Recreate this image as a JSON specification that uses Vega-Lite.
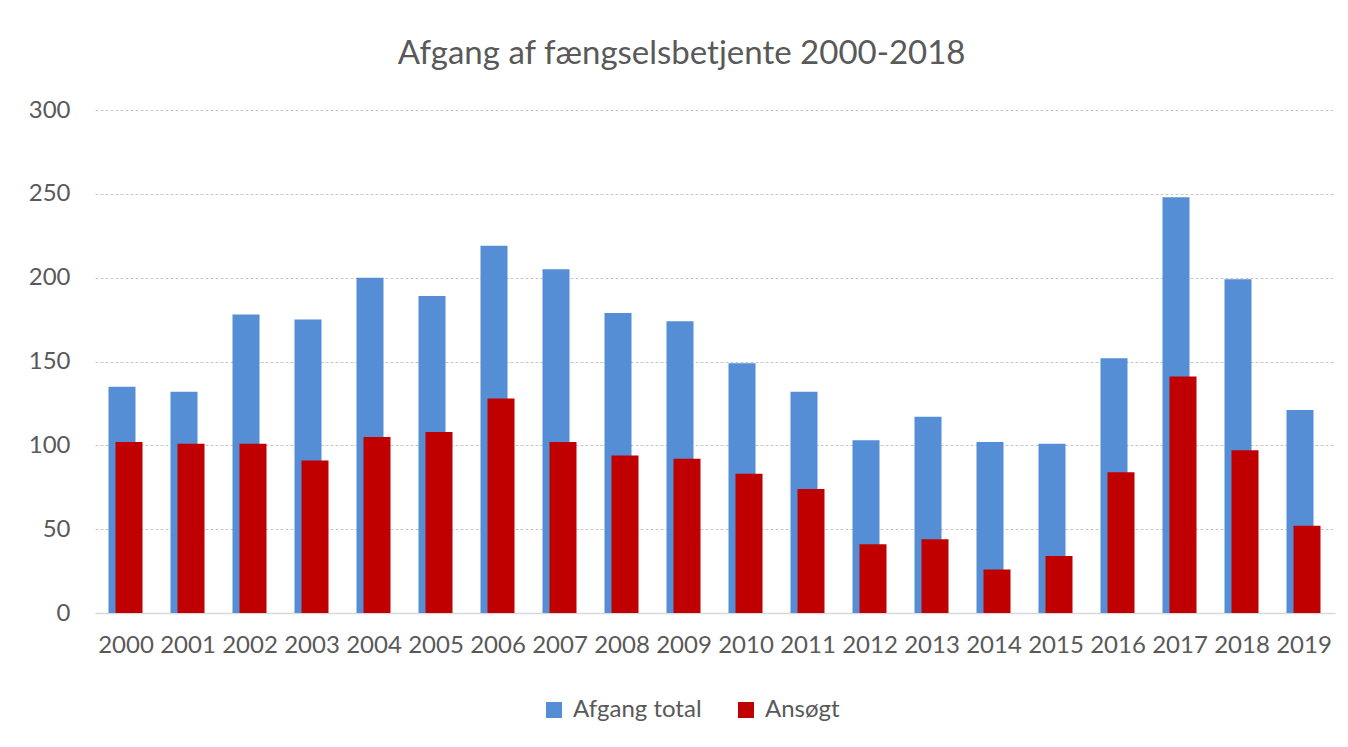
{
  "$schema": "https://vega.github.io/schema/vega-lite/v6.json",
  "width": 1240,
  "height": 503,
  "autosize": {"type": "none"},
  "padding": {"left": 95, "top": 110, "right": 13, "bottom": 134},
  "background": "white",
  "config": {"view": {"stroke": null}},
  "title": {
    "text": "Afgang af fængselsbetjente 2000-2018",
    "font": "Lato",
    "fontSize": 33,
    "fontWeight": "normal",
    "color": "#595959",
    "frame": "bounds",
    "anchor": "middle",
    "offset": 27
  },
  "data": {
    "values": [
      {"year": "2000", "series": "Afgang total", "value": 135},
      {"year": "2001", "series": "Afgang total", "value": 132},
      {"year": "2002", "series": "Afgang total", "value": 178},
      {"year": "2003", "series": "Afgang total", "value": 175},
      {"year": "2004", "series": "Afgang total", "value": 200},
      {"year": "2005", "series": "Afgang total", "value": 189},
      {"year": "2006", "series": "Afgang total", "value": 219},
      {"year": "2007", "series": "Afgang total", "value": 205},
      {"year": "2008", "series": "Afgang total", "value": 179},
      {"year": "2009", "series": "Afgang total", "value": 174},
      {"year": "2010", "series": "Afgang total", "value": 149},
      {"year": "2011", "series": "Afgang total", "value": 132},
      {"year": "2012", "series": "Afgang total", "value": 103},
      {"year": "2013", "series": "Afgang total", "value": 117},
      {"year": "2014", "series": "Afgang total", "value": 102},
      {"year": "2015", "series": "Afgang total", "value": 101},
      {"year": "2016", "series": "Afgang total", "value": 152},
      {"year": "2017", "series": "Afgang total", "value": 248},
      {"year": "2018", "series": "Afgang total", "value": 199},
      {"year": "2019", "series": "Afgang total", "value": 121},
      {"year": "2000", "series": "Ansøgt", "value": 102},
      {"year": "2001", "series": "Ansøgt", "value": 101},
      {"year": "2002", "series": "Ansøgt", "value": 101},
      {"year": "2003", "series": "Ansøgt", "value": 91},
      {"year": "2004", "series": "Ansøgt", "value": 105},
      {"year": "2005", "series": "Ansøgt", "value": 108},
      {"year": "2006", "series": "Ansøgt", "value": 128},
      {"year": "2007", "series": "Ansøgt", "value": 102},
      {"year": "2008", "series": "Ansøgt", "value": 94},
      {"year": "2009", "series": "Ansøgt", "value": 92},
      {"year": "2010", "series": "Ansøgt", "value": 83},
      {"year": "2011", "series": "Ansøgt", "value": 74},
      {"year": "2012", "series": "Ansøgt", "value": 41},
      {"year": "2013", "series": "Ansøgt", "value": 44},
      {"year": "2014", "series": "Ansøgt", "value": 26},
      {"year": "2015", "series": "Ansøgt", "value": 34},
      {"year": "2016", "series": "Ansøgt", "value": 84},
      {"year": "2017", "series": "Ansøgt", "value": 141},
      {"year": "2018", "series": "Ansøgt", "value": 97},
      {"year": "2019", "series": "Ansøgt", "value": 52}
    ]
  },
  "encoding": {
    "x": {
      "field": "year",
      "type": "nominal",
      "sort": null,
      "scale": {"type": "band", "paddingInner": 0, "paddingOuter": 0},
      "axis": {
        "title": null,
        "labelAngle": 0,
        "labelFont": "Lato",
        "labelFontSize": 24,
        "labelColor": "#595959",
        "labelPadding": 20,
        "labelOverlap": false,
        "labelBound": false,
        "ticks": false,
        "domain": true,
        "domainColor": "#d9d9d9",
        "domainWidth": 1.5,
        "grid": false
      }
    },
    "y": {
      "field": "value",
      "type": "quantitative",
      "scale": {"domain": [0, 300], "nice": false},
      "axis": {
        "title": null,
        "values": [0, 50, 100, 150, 200, 250, 300],
        "labelFont": "Lato",
        "labelFontSize": 24,
        "labelColor": "#595959",
        "labelPadding": 25,
        "ticks": false,
        "domain": false,
        "grid": true,
        "gridColor": "#c8c8c8",
        "gridDash": [3, 2],
        "gridWidth": 1
      }
    },
    "color": {
      "field": "series",
      "type": "nominal",
      "scale": {"domain": ["Afgang total", "Ansøgt"], "range": ["#558ED5", "#C00000"]},
      "legend": {
        "title": null,
        "orient": "none",
        "legendX": 447,
        "legendY": 588,
        "direction": "horizontal",
        "symbolType": "square",
        "symbolSize": 256,
        "symbolStrokeWidth": 0,
        "labelFont": "Lato",
        "labelFontSize": 24,
        "labelColor": "#595959",
        "labelOffset": 7,
        "columnPadding": 32
      }
    }
  },
  "layer": [
    {
      "transform": [{"filter": "datum.series === 'Afgang total'"}],
      "mark": {"type": "bar", "width": 27, "xOffset": -4}
    },
    {
      "transform": [{"filter": "datum.series === 'Ansøgt'"}],
      "mark": {"type": "bar", "width": 27, "xOffset": 3}
    }
  ]
}
